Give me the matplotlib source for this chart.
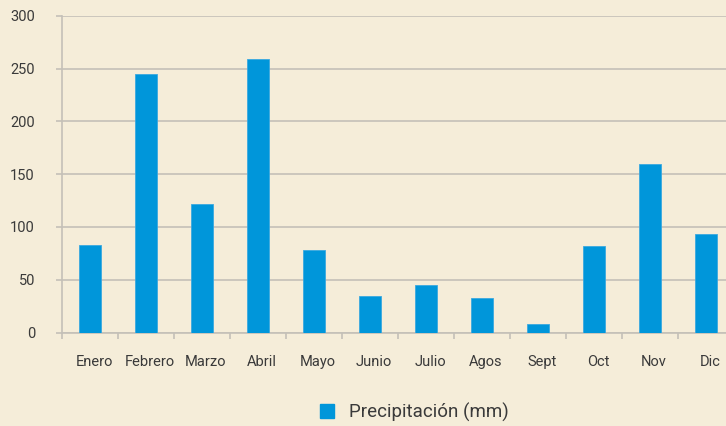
import matplotlib
matplotlib.use("Agg")
import matplotlib.pyplot as plt
import matplotlib.transforms as mtransforms
from matplotlib.patches import Patch
import numpy as np

months = ["Enero", "Febrero", "Marzo", "Abril", "Mayo", "Junio",
          "Julio", "Agos", "Sept", "Oct", "Nov", "Dic"]
precip = [83, 245, 122, 259, 78, 35, 45, 33, 8, 82, 160, 93]
yticks = [0, 50, 100, 150, 200, 250, 300]
series_name = "Precipitación (mm)"

BG = "#F5EDD9"
BAR = "#0096DA"
GRID = "#C4C0B8"
TXT = "#3A3A3A"

plt.rcParams['font.family'] = ['Roboto', 'DejaVu Sans']

W, H = 726, 426
fig = plt.figure(figsize=(W / 100, H / 100), dpi=100, facecolor=BG)
ax = fig.add_axes([62 / W, 1 - 332.5 / H, (734 - 62) / W, (332.5 - 16) / H])
ax.set_facecolor(BG)

x = np.arange(len(months))
ax.bar(x, precip, width=0.41, color=BAR, edgecolor="#3AA8E0", linewidth=0.6, zorder=3)

ax.set_xlim(-0.5, len(months) - 0.5)
ax.set_ylim(0, 300)
ax.set_yticks(yticks)
ax.set_yticklabels([str(v) for v in yticks])
ax.yaxis.grid(True, color=GRID, linewidth=1.2, zorder=0)
ax.set_axisbelow(True)

# x ticks at category boundaries, labels at centers
ax.set_xticks(np.arange(-0.5, len(months), 1.0))
ax.set_xticklabels([])
ax.set_xticks(x, minor=True)
ax.set_xticklabels(months, minor=True)
ax.tick_params(axis="x", which="major", length=4, width=1.2, color=GRID, direction="out")
ax.tick_params(axis="x", which="minor", length=0, pad=24, labelsize=10.5, labelcolor=TXT)
ax.tick_params(axis="y", length=4.5, width=1.2, color=GRID, pad=15, labelsize=10.5, labelcolor=TXT)

offset = mtransforms.ScaledTranslation(4 / 100, 0, fig.dpi_scale_trans)
for lab in ax.xaxis.get_minorticklabels():
    lab.set_transform(lab.get_transform() + offset)
    lab.set_verticalalignment("baseline")

for s in ["top", "right"]:
    ax.spines[s].set_visible(False)
for s in ["left", "bottom"]:
    ax.spines[s].set_color(GRID)
    ax.spines[s].set_linewidth(1.2)

handle = Patch(facecolor=BAR, edgecolor=BAR)
leg = fig.legend(handles=[handle], labels=[series_name], loc="center",
                 bbox_to_anchor=(414 / W, 1 - 412 / H), frameon=False,
                 handlelength=0.75, handleheight=0.75, handletextpad=0.8,
                 fontsize=13.5)
for t in leg.get_texts():
    t.set_color(TXT)

fig.savefig("out.png", dpi=100, facecolor=BG)
